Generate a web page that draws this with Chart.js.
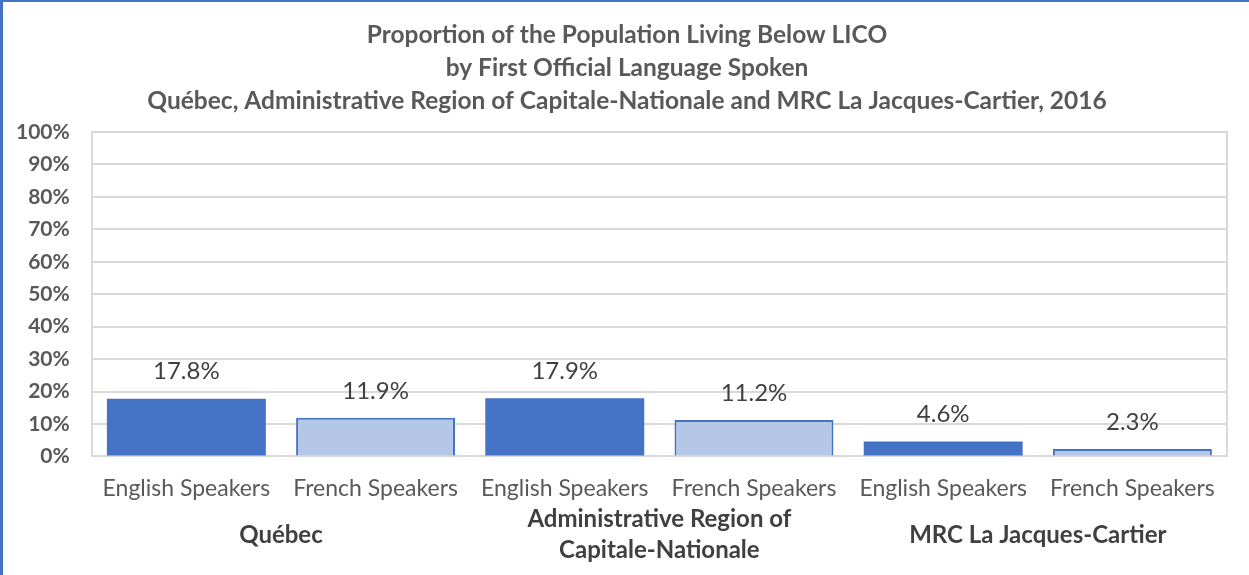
<!DOCTYPE html>
<html>
<head>
<meta charset="utf-8">
<script src="https://cdn.jsdelivr.net/npm/chart.js@4.4.1/dist/chart.umd.min.js"></script>
<style>
    html, body { margin: 0; padding: 0; background: #fff; }
    #wrap { position: relative; width: 1249px; height: 575px; }
    #frame {
        position: absolute; left: 0; top: 0; width: 1249px; height: 575px;
        box-sizing: border-box; border-top: 2px solid #4472C4; border-left: 3px solid #4472C4;
        pointer-events: none;
    }
</style>
</head>
<body>
<div id="wrap">
    <canvas id="chart" width="1249" height="575"></canvas>
    <div id="frame"></div>
</div>
<script>
const titleLines = [
    'Proportion of the Population Living Below LICO',
    'by First Official Language Spoken',
    'Québec, Administrative Region of Capitale-Nationale and MRC La Jacques-Cartier, 2016'
];
const speakers = ['English Speakers', 'French Speakers', 'English Speakers', 'French Speakers', 'English Speakers', 'French Speakers'];
const regions = [['Québec'], ['Administrative Region of', 'Capitale-Nationale'], ['MRC La Jacques-Cartier']];
const lowIncome = [17.8, 11.9, 17.9, 11.2, 4.6, 2.3];
const yTickStep = 10;

const FONT = 'Lato, "Open Sans", sans-serif';
const english = '#4472C4';
const french = '#B4C7E7';

// value labels above each bar
const valueLabels = {
    id: 'valueLabels',
    afterDatasetsDraw(chart) {
        const ctx = chart.ctx;
        const meta = chart.getDatasetMeta(0);
        ctx.save();
        ctx.font = '24px ' + FONT;
        ctx.fillStyle = '#404040';
        ctx.textAlign = 'center';
        ctx.textBaseline = 'middle';
        meta.data.forEach((bar, i) => {
            ctx.fillText(lowIncome[i].toFixed(1) + '%', bar.x, bar.y - 27);
        });
        ctx.restore();
    }
};

// region names under each pair of bars, and the title (slightly right of centre, like the original)
const extraText = {
    id: 'extraText',
    afterDraw(chart) {
        const ctx = chart.ctx;
        const x = chart.scales.x;
        const area = chart.chartArea;
        ctx.save();
        ctx.textAlign = 'center';
        ctx.textBaseline = 'middle';

        ctx.font = 'bold 24.5px ' + FONT;
        ctx.fillStyle = '#595959';
        titleLines.forEach((t, j) => ctx.fillText(t, 627, area.top - 97 + j * 33));

        const mid = area.bottom + 78.5;
        const lh = 31;
        ctx.font = 'bold 24px ' + FONT;
        ctx.fillStyle = '#404040';
        regions.forEach((lines, i) => {
            const cx = (x.getPixelForValue(i * 2) + x.getPixelForValue(i * 2 + 1)) / 2;
            const y0 = mid - (lines.length - 1) * lh / 2;
            lines.forEach((t, j) => ctx.fillText(t, cx, y0 + j * lh));
        });
        ctx.restore();
    }
};

new Chart(document.getElementById('chart'), {
    type: 'bar',
    data: {
        labels: speakers,
        datasets: [{
            data: lowIncome,
            backgroundColor: speakers.map((s, i) => i % 2 === 0 ? english : french),
            borderColor: english,
            borderWidth: speakers.map((s, i) => i % 2 === 0 ? 0 : 2),
            barPercentage: 0.84,
            categoryPercentage: 1
        }]
    },
    options: {
        responsive: false,
        animation: false,
        layout: { padding: { left: -6, right: 22, top: 132, bottom: 55 } },
        plugins: {
            legend: { display: false },
            tooltip: { enabled: false },
            title: { display: false }
        },
        scales: {
            x: {
                grid: { display: false, drawTicks: false, tickLength: 0 },
                border: { display: true, color: '#D9D9D9', width: 2 },
                ticks: {
                    color: '#595959',
                    padding: 18,
                    font: { family: FONT, size: 23, lineHeight: 1.2 },
                    maxRotation: 0,
                    autoSkip: false
                }
            },
            y: {
                min: 0,
                max: 100,
                grid: { color: '#D9D9D9', lineWidth: 2, drawTicks: false, tickLength: 0 },
                border: { display: true, color: '#D9D9D9', width: 2 },
                ticks: {
                    stepSize: yTickStep,
                    color: '#595959',
                    padding: 22,
                    font: { family: FONT, size: 21, weight: 'bold' },
                    callback: v => v + '%'
                }
            },
            yRight: {
                position: 'right',
                min: 0,
                max: 100,
                grid: { display: false, drawTicks: false, tickLength: 0 },
                border: { display: true, color: '#D9D9D9', width: 2 },
                ticks: { display: false }
            }
        }
    },
    plugins: [valueLabels, extraText]
});
</script>
</body>
</html>
